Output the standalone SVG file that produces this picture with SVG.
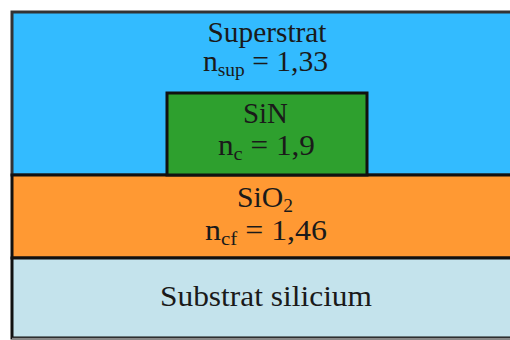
<svg xmlns="http://www.w3.org/2000/svg" width="510" height="340" viewBox="0 0 510 340">
<style>
text{font-family:"Liberation Serif","Times New Roman",serif;font-size:29px;fill:#1a1a1a;text-anchor:middle}
.sub{font-size:19px}
.ln{stroke:#111;stroke-width:3}
</style>
<rect x="0" y="0" width="510" height="340" fill="#ffffff"/>
<g id="superstrat">
<rect x="12" y="12" width="510" height="163" fill="#33BBFF" stroke="#333" stroke-width="3"/>
<text x="267" y="42" textLength="119" lengthAdjust="spacingAndGlyphs">Superstrat</text>
<text x="265.5" y="71" textLength="125" lengthAdjust="spacingAndGlyphs">n<tspan class="sub" dy="5">sup</tspan><tspan dy="-5"> = 1,33</tspan></text>
</g>
<g id="sio2">
<rect x="12" y="175" width="510" height="83" fill="#FF9933" class="ln"/>
<text x="265" y="207" textLength="56" lengthAdjust="spacingAndGlyphs">SiO<tspan class="sub" dy="5">2</tspan></text>
<text x="266" y="240" textLength="122" lengthAdjust="spacingAndGlyphs">n<tspan class="sub" dy="5">cf</tspan><tspan dy="-5"> = 1,46</tspan></text>
</g>
<g id="substrat">
<rect x="12" y="258" width="510" height="80" fill="#C4E3EC" class="ln"/>
<line x1="12" y1="338.5" x2="510" y2="338.5" stroke="#888" stroke-width="1.5"/>
<text x="266" y="306" textLength="212" lengthAdjust="spacingAndGlyphs">Substrat silicium</text>
</g>
<g id="sin">
<rect x="167" y="93" width="200" height="82" fill="#2EA02E" class="ln"/>
<text x="265.5" y="123" textLength="45" lengthAdjust="spacingAndGlyphs">SiN</text>
<text x="266.5" y="155" textLength="97" lengthAdjust="spacingAndGlyphs">n<tspan class="sub" dy="5">c</tspan><tspan dy="-5"> = 1,9</tspan></text>
</g>
<g id="connectors"></g>
</svg>
